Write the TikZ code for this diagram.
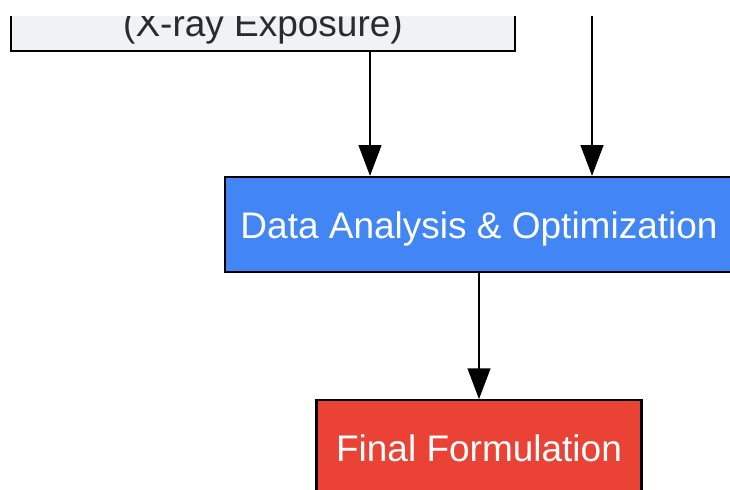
\documentclass[tikz,border=0pt]{standalone}
\usepackage{fontspec}
\setmainfont{Liberation Sans}
\usepackage{xcolor}
\usetikzlibrary{shapes, arrows.meta, positioning}

\definecolor{boxgray}{HTML}{F1F2F4}
\definecolor{textgray}{HTML}{2B2B2B}
\definecolor{gblue}{HTML}{4285F4}
\definecolor{gred}{HTML}{EA4335}

\begin{document}
\begin{tikzpicture}[
		x=0.75pt, y=-0.75pt,
		box/.style={draw=black, line width=1.7pt, minimum height=71.25pt, inner sep=0pt,
			font=\fontsize{27.75}{33}\selectfont},
		arr/.style={line width=1.5pt, -{Triangle[length=23pt, width=17pt]}},
		node distance=94.5pt,
		every node/.style={align=center}
		]
		
		\useasboundingbox (0,0) rectangle (730,489);
		\clip (0,16) rectangle (730,489);
		
		% Boxes
		\node[box, fill=boxgray, text=textgray, minimum width=378pt, minimum height=36pt] (xray) at (263,27) {(X-ray Exposure)};
		\node[box, fill=gblue, text=white, minimum width=381pt, text height=27pt, text depth=5.8pt] (analysis) at (479,224.5) {Data Analysis \& Optimization};
		\node[box, fill=gred, text=white, minimum width=243.75pt, below=of analysis] (final) {Final Formulation};
		
		% incoming edge from above the frame
		\coordinate (upper) at (592,-20);
		
		% Arrows
		\draw[arr] ([xshift=80.25pt]xray.south) -- ([xshift=80.25pt]xray.south |- analysis.north);
		\draw[arr] (upper) -- (upper |- analysis.north);
		\draw[arr] (analysis) -- (final);
		
	\end{tikzpicture}
\end{document}
